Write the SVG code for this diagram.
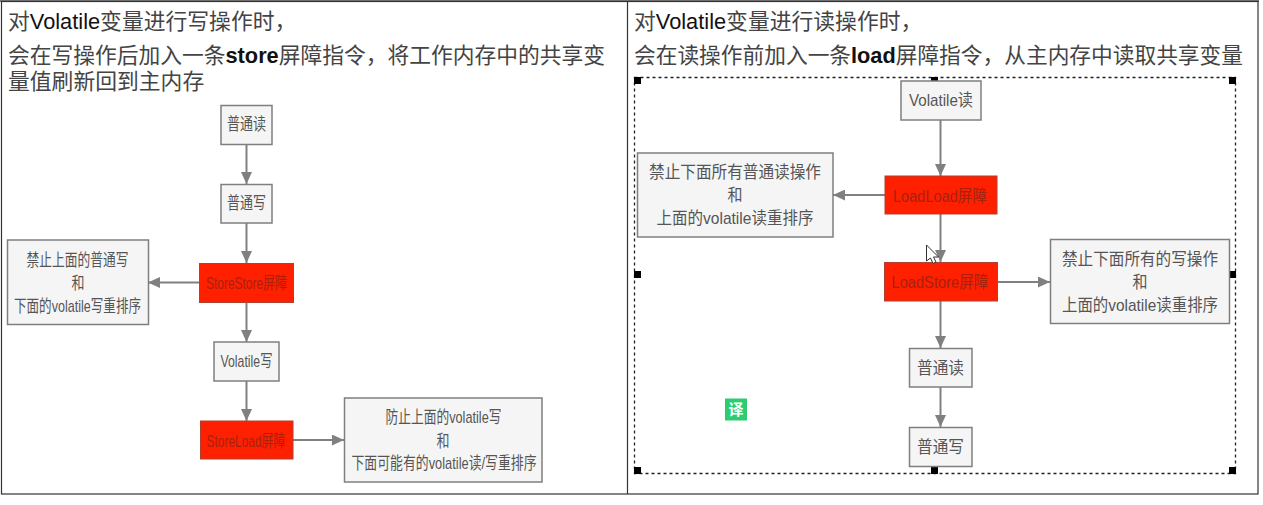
<svg xmlns="http://www.w3.org/2000/svg" width="1263" height="505" viewBox="0 0 1263 505">
<style>
text{font-family:"Liberation Sans","Noto Sans CJK SC",sans-serif}
.h{font-size:21.8px;fill:#444}
.h .l{fill:#111}
.h .b{fill:#111;font-weight:bold}
.n{fill:#f5f5f5;stroke:#7f7f7f;stroke-width:1.5}
.r{fill:#ff2000;stroke:#b04030;stroke-width:1}
.t{font-size:17px;fill:#555;text-anchor:middle}
.d{font-size:17px;fill:#a8200f;text-anchor:middle}
.c{fill:none;stroke:#808080;stroke-width:2;marker-end:url(#a)}
.s{fill:#000}
</style>
<defs>
<marker id="a" markerUnits="userSpaceOnUse" markerWidth="13" markerHeight="11" refX="12" refY="5.5" orient="auto">
<path d="M0 0L12 5.5L0 11z" fill="#808080"/>
</marker>
</defs>
<rect width="1263" height="505" fill="#fff"/>
<rect x="0" y="0" width="1259" height="2" fill="#777"/>
<g id="frame" fill="none" stroke="#333" stroke-width="1.2">
<rect x="1.5" y="1.5" width="1256.5" height="492.5"/>
<path d="M627.5 1.5V494"/>
</g>
<g id="heading-left">
<text class="h" x="8" y="29">对<tspan class="l">Volatile</tspan>变量进行写操作时，</text>
<text class="h" x="8" y="63" textLength="597" lengthAdjust="spacingAndGlyphs">会在写操作后加入一条<tspan class="b">store</tspan>屏障指令，将工作内存中的共享变</text>
<text class="h" x="8" y="89">量值刷新回到主内存</text>
</g>
<g id="heading-right">
<text class="h" x="634" y="29">对<tspan class="l">Volatile</tspan>变量进行读操作时，</text>
<text class="h" x="634" y="63" textLength="609" lengthAdjust="spacingAndGlyphs">会在读操作前加入一条<tspan class="b">load</tspan>屏障指令，从主内存中读取共享变量</text>
</g>
<g id="selection">
<rect x="634.500" y="77.500" width="601" height="396" fill="none" stroke="#222" stroke-width="1.3" stroke-dasharray="3 3"/>
<rect class="s" x="634" y="77" width="7" height="7"/>
<rect class="s" x="931" y="77" width="7" height="7"/>
<rect class="s" x="1229" y="77" width="7" height="7"/>
<rect class="s" x="634" y="271" width="7" height="7"/>
<rect class="s" x="1229" y="271" width="7" height="7"/>
<rect class="s" x="634" y="467" width="7" height="7"/>
<rect class="s" x="931" y="467" width="7" height="7"/>
<rect class="s" x="1229" y="467" width="7" height="7"/>
</g>
<g id="connectors">
<path class="c" d="M246.500 144V184"/>
<path class="c" d="M246.500 223V263"/>
<path class="c" d="M246.500 302V342"/>
<path class="c" d="M246.500 381V421"/>
<path class="c" d="M199 282.500H148"/>
<path class="c" d="M293 440H344"/>
<path class="c" d="M940.500 120V176"/>
<path class="c" d="M940.500 214V262"/>
<path class="c" d="M940.500 301V348"/>
<path class="c" d="M940.500 387V427"/>
<path class="c" d="M885 195H833"/>
<path class="c" d="M997 282H1050"/>
</g>
<g id="l-read"><rect class="n" x="221" y="105.500" width="51" height="39"/><text class="t" x="246.500" y="130" textLength="39" lengthAdjust="spacingAndGlyphs">普通读</text></g>
<g id="l-write"><rect class="n" x="221" y="184.500" width="51" height="38.500"/><text class="t" x="246.500" y="209" textLength="39" lengthAdjust="spacingAndGlyphs">普通写</text></g>
<g id="l-note1"><rect class="n" x="7.500" y="240" width="141" height="84.500"/>
<text class="t" x="77.500" y="266" textLength="102" lengthAdjust="spacingAndGlyphs">禁止上面的普通写</text>
<text class="t" x="78" y="289" textLength="13" lengthAdjust="spacingAndGlyphs">和</text>
<text class="t" x="77.500" y="312" textLength="127" lengthAdjust="spacingAndGlyphs">下面的volatile写重排序</text></g>
<g id="l-storestore"><rect class="r" x="199.500" y="263.500" width="94" height="39"/><text class="d" x="246.500" y="289" textLength="81" lengthAdjust="spacingAndGlyphs">StoreStore屏障</text></g>
<g id="l-volatile"><rect class="n" x="214" y="342" width="65" height="39"/><text class="t" x="246.500" y="367" textLength="52" lengthAdjust="spacingAndGlyphs">Volatile写</text></g>
<g id="l-storeload"><rect class="r" x="200.500" y="421" width="92.500" height="38"/><text class="d" x="246" y="446.500" textLength="79" lengthAdjust="spacingAndGlyphs">StoreLoad屏障</text></g>
<g id="l-note2"><rect class="n" x="344.500" y="398" width="197.500" height="84"/>
<text class="t" x="443.500" y="423" textLength="116" lengthAdjust="spacingAndGlyphs">防止上面的volatile写</text>
<text class="t" x="443" y="446.500" textLength="13" lengthAdjust="spacingAndGlyphs">和</text>
<text class="t" x="444" y="469" textLength="185" lengthAdjust="spacingAndGlyphs">下面可能有的volatile读/写重排序</text></g>
<g id="r-volatile"><rect class="n" x="901" y="81" width="80" height="39"/><text class="t" x="941" y="106" textLength="64" lengthAdjust="spacingAndGlyphs">Volatile读</text></g>
<g id="r-loadload"><rect class="r" x="885" y="176" width="112" height="38"/><text class="d" x="940" y="201.500" textLength="94" lengthAdjust="spacingAndGlyphs">LoadLoad屏障</text></g>
<g id="r-note1"><rect class="n" x="637.500" y="153" width="195.500" height="84"/>
<text class="t" x="735" y="178" textLength="172" lengthAdjust="spacingAndGlyphs">禁止下面所有普通读操作</text>
<text class="t" x="735" y="201" textLength="15" lengthAdjust="spacingAndGlyphs">和</text>
<text class="t" x="735" y="224" textLength="157" lengthAdjust="spacingAndGlyphs">上面的volatile读重排序</text></g>
<g id="r-loadstore"><rect class="r" x="884.500" y="262.500" width="113" height="38.500"/><text class="d" x="940" y="288" textLength="97" lengthAdjust="spacingAndGlyphs">LoadStore屏障</text></g>
<g id="r-note2"><rect class="n" x="1050.500" y="239.500" width="179" height="84"/>
<text class="t" x="1140" y="265" textLength="156" lengthAdjust="spacingAndGlyphs">禁止下面所有的写操作</text>
<text class="t" x="1140" y="288" textLength="15" lengthAdjust="spacingAndGlyphs">和</text>
<text class="t" x="1140" y="311" textLength="156" lengthAdjust="spacingAndGlyphs">上面的volatile读重排序</text></g>
<g id="r-read"><rect class="n" x="909.500" y="348.500" width="62.500" height="38.500"/><text class="t" x="940.500" y="374" textLength="47" lengthAdjust="spacingAndGlyphs">普通读</text></g>
<g id="r-write"><rect class="n" x="909.500" y="427.500" width="62.500" height="39"/><text class="t" x="940.500" y="453" textLength="47" lengthAdjust="spacingAndGlyphs">普通写</text></g>
<path id="cursor" d="M926.500 245V261L930.500 258L933 263.500L936 262L933.500 257H938.500Z" fill="#fff" stroke="#333" stroke-width="1"/>
<g id="badge"><rect x="725" y="398.500" width="22" height="22" fill="#2ecc71"/><text x="736" y="415" font-size="15" font-weight="bold" fill="#fff" text-anchor="middle">译</text></g>
</svg>
